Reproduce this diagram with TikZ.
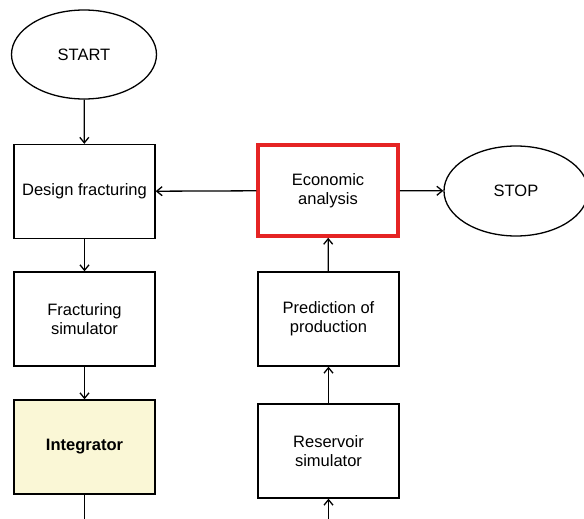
\documentclass[tikz,border=0pt]{standalone}
\usepackage{fontspec}
\setmainfont{Liberation Sans}
\usetikzlibrary{shapes.geometric,arrows.meta}
\definecolor{boxred}{HTML}{E52424}
\definecolor{intfill}{HTML}{FAF7D6}
\begin{document}
\begin{tikzpicture}[x=1pt,y=-1pt,
  every node/.style={font=\fontsize{16.5}{19}\selectfont, align=center, inner sep=0pt},
  procbox/.style={draw, line width=1.3pt, minimum width=141pt, minimum height=94pt},
  termnode/.style={draw, ellipse, line width=1.3pt, minimum width=145pt, minimum height=89pt},
  flow/.style={line width=1.3pt, -{Straight Barb[length=5.5pt,width=9pt,line width=1.3pt]}},
  plainline/.style={line width=1.3pt}]
\useasboundingbox (0,0) rectangle (584,519);
\clip (0,0) rectangle (584,519);
\node[termnode] (start) at (84,54.5) {START};
\node[procbox] (design) at (84.5,191.5) {Design fracturing};
\node[procbox] (frac) at (84.5,319) {Fracturing\\simulator};
\node[procbox, fill=intfill, font=\fontsize{16.5}{19}\selectfont\bfseries] (integ) at (84.5,447) {Integrator};
\node[draw=boxred, line width=3.5pt, minimum width=140pt, minimum height=91pt] (econ) at (328,190.5) {Economic\\analysis};
\node[termnode, minimum width=144pt, minimum height=90pt] (stop) at (516,191) {STOP};
\node[procbox] (pred) at (328.5,319) {Prediction of\\production};
\node[procbox] (res) at (328.5,451) {Reservoir\\simulator};
\coordinate (intout) at (84.5,519);
\coordinate (resin) at (328.5,519);
\draw[flow] (start) -- (design);
\draw[flow] (design) -- (frac);
\draw[flow] (frac) -- (integ);
\draw[plainline] (integ) -- (intout);
\draw[flow] (econ) -- (design);
\draw[flow] (econ) -- (stop);
\draw[flow] (pred) -- (econ);
\draw[flow] (res) -- (pred);
\draw[flow] (resin) -- (res);
\end{tikzpicture}
\end{document}
